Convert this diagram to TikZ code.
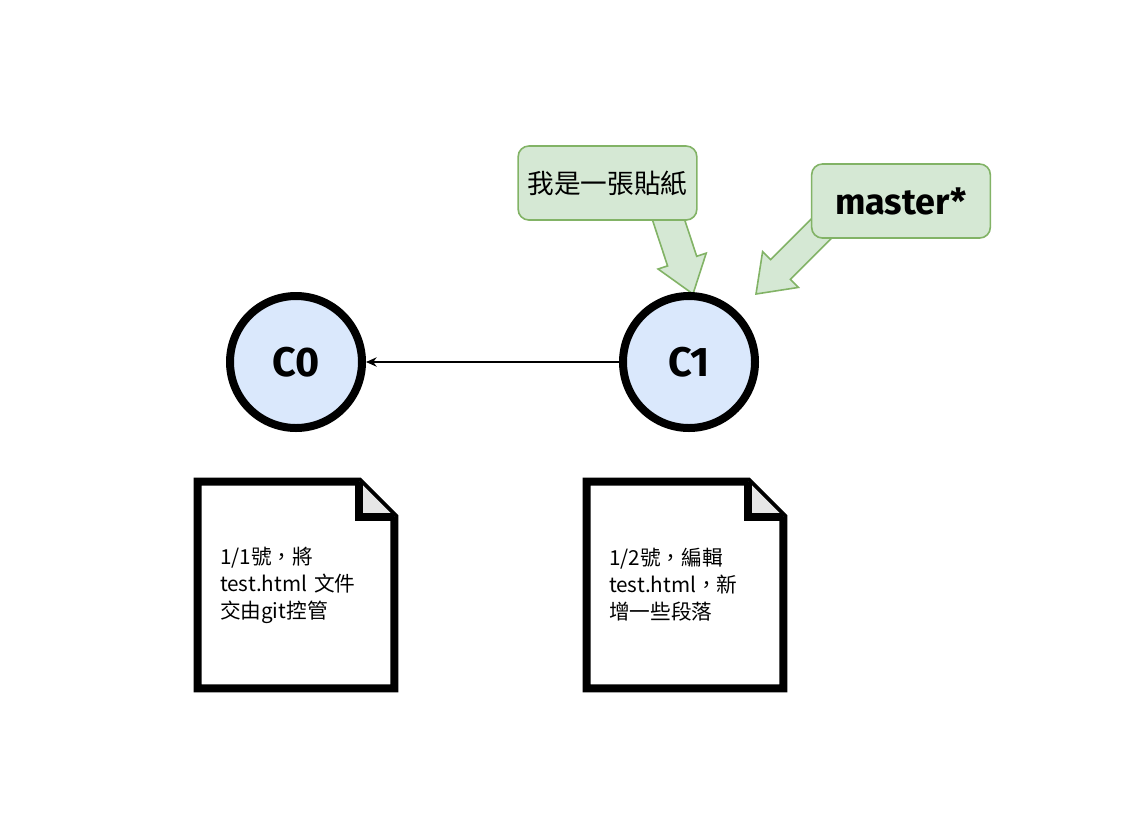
\documentclass[tikz,border=0pt]{standalone}
\usepackage{fontspec}
\setmainfont{Noto Sans CJK TC}
\newfontfamily\handfont{Fira Sans}
\usetikzlibrary{arrows.meta,calc}

\definecolor{commitblue}{HTML}{DAE8FC}
\definecolor{tagfill}{HTML}{D5E8D4}
\definecolor{tagline}{HTML}{82B366}
\definecolor{foldgray}{HTML}{E6E6E6}

\begin{document}
\begin{tikzpicture}[
	x=0.75pt, y=-0.75pt,
	commit/.style={circle, draw, line width=6pt, fill=commitblue, minimum size=99pt, inner sep=0pt, font=\handfont\bfseries\fontsize{31}{36}\selectfont},
	tag/.style={draw=tagline, fill=tagfill, line width=1.2pt, rounded corners=8pt, minimum width=134pt, minimum height=55.5pt, inner sep=0pt},
	tagarrow/.style={draw=tagline, fill=tagfill, line width=1.2pt, line join=miter},
	doc/.style={minimum width=147pt, minimum height=154.5pt, text width=114pt, align=left, inner sep=0pt, font=\fontsize{15.5}{20.25}\selectfont},
	docline/.style={draw, line width=6pt, line join=miter},
	edge/.style={-{Stealth[length=8pt, width=7pt]}, line width=1pt}
]
\useasboundingbox (0,0) rectangle (1139,826);

% Tag arrows
\coordinate (stickerstart) at (662,200);
\coordinate (stickertip) at (693,294);
\coordinate (stickerhead) at ($(stickertip)!26pt!(stickerstart)$);
\path[tagarrow] ($(stickerstart)!11.5pt!90:(stickertip)$) -- ($(stickerhead)!11.5pt!90:(stickertip)$)
	-- ($(stickerhead)!19pt!90:(stickertip)$) -- (stickertip) -- ($(stickerhead)!19pt!-90:(stickertip)$)
	-- ($(stickerhead)!11.5pt!-90:(stickertip)$) -- ($(stickerstart)!11.5pt!-90:(stickertip)$) -- cycle;

\coordinate (masterstart) at (850,200);
\coordinate (mastertip) at (756,294);
\coordinate (masterhead) at ($(mastertip)!26pt!(masterstart)$);
\path[tagarrow] ($(masterstart)!10.5pt!90:(mastertip)$) -- ($(masterhead)!10.5pt!90:(mastertip)$)
	-- ($(masterhead)!19pt!90:(mastertip)$) -- (mastertip) -- ($(masterhead)!19pt!-90:(mastertip)$)
	-- ($(masterhead)!10.5pt!-90:(mastertip)$) -- ($(masterstart)!10.5pt!-90:(mastertip)$) -- cycle;

% Tags
\node[tag, font=\fontsize{20}{24}\selectfont] (sticker) at (607.5,183) {我是一張貼紙};
\node[tag, font=\handfont\bfseries\fontsize{27}{32}\selectfont] (master) at (901,201) {master*};

% Commits
\node[commit] (c0) at (296,362) {C0};
\node[commit] (c1) at (689,362) {C1};
\draw[edge] (c1) -- (c0);

% Documents
\node[doc] (doc0) at (296,585) {1/1號，將\\test.html 文件\\交由git控管};
\node[doc] (doc1) at (685,585) {1/2號，編輯\\test.html，新\\增一些段落};

\draw[docline] (doc0.north west) -- ($(doc0.north east)+(-35,0)$) -- ($(doc0.north east)+(0,35)$) -- (doc0.south east) -- (doc0.south west) -- cycle;
\fill[foldgray] ($(doc0.north east)+(-35,0)$) -- ($(doc0.north east)+(-35,35)$) -- ($(doc0.north east)+(0,35)$) -- cycle;
\draw[docline] ($(doc0.north east)+(-35,0)$) -- ($(doc0.north east)+(-35,35)$) -- ($(doc0.north east)+(0,35)$);
\draw[docline] (doc1.north west) -- ($(doc1.north east)+(-35,0)$) -- ($(doc1.north east)+(0,35)$) -- (doc1.south east) -- (doc1.south west) -- cycle;
\fill[foldgray] ($(doc1.north east)+(-35,0)$) -- ($(doc1.north east)+(-35,35)$) -- ($(doc1.north east)+(0,35)$) -- cycle;
\draw[docline] ($(doc1.north east)+(-35,0)$) -- ($(doc1.north east)+(-35,35)$) -- ($(doc1.north east)+(0,35)$);

\end{tikzpicture}
\end{document}
